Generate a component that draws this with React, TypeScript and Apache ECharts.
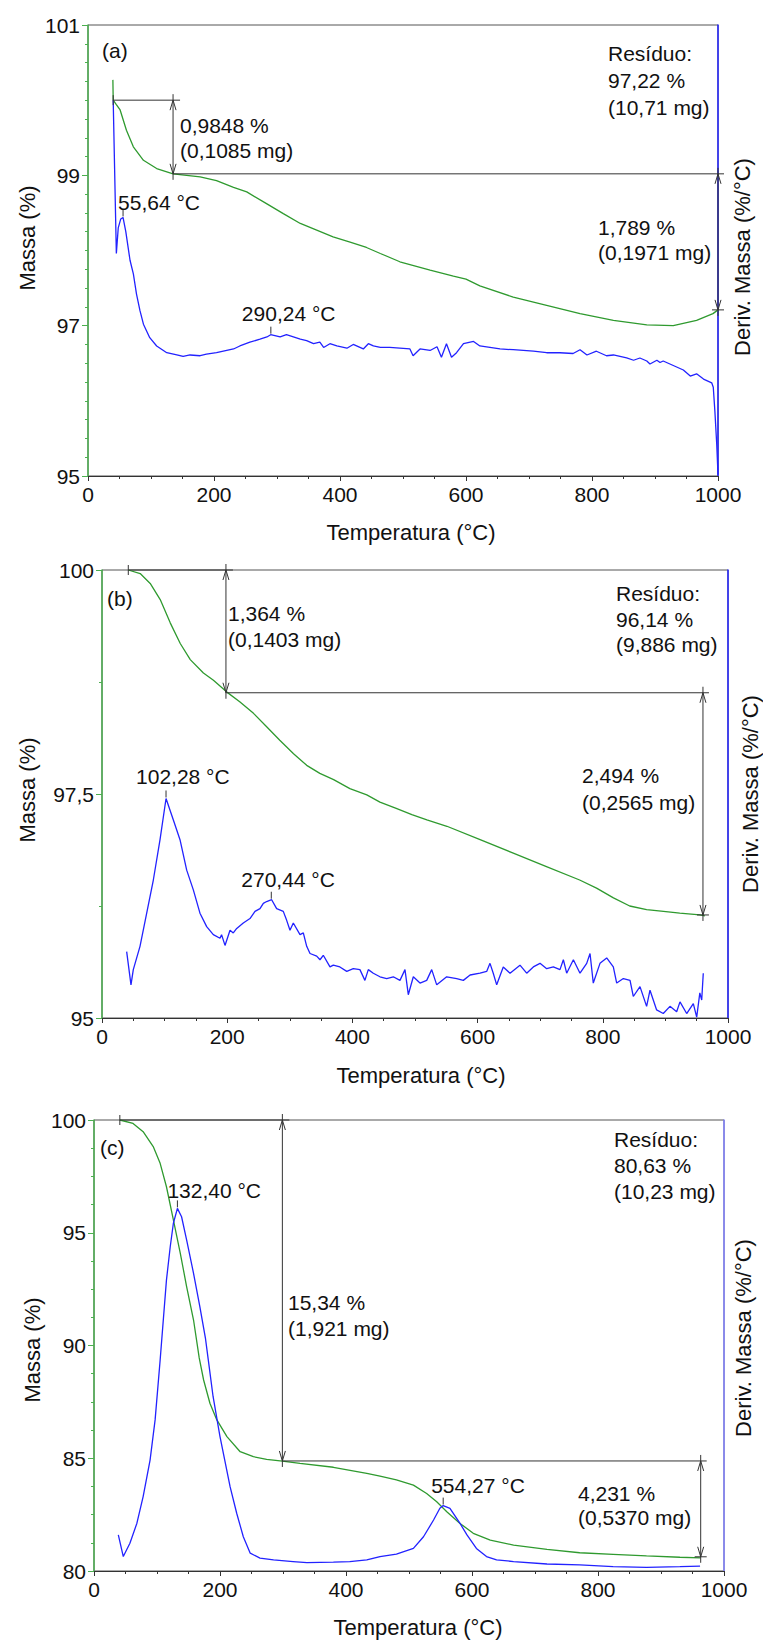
import React, { useEffect, useRef } from "react";
import * as echarts from "echarts";

// ---------- Panel (a) ----------
const tgaA = [[39.5,100.27],[40,100.0],[45,99.94],[51,99.87],[61,99.6],[72,99.38],[88,99.2],[109,99.09],[135,99.02],[178,98.98],[204,98.93],[231,98.84],[252,98.78],[284,98.62],[310,98.49],[337,98.36],[363,98.27],[389,98.18],[416,98.11],[442,98.04],[464,97.96],[495,97.85],[543,97.74],[580,97.66],[600,97.62],[622,97.53],[675,97.38],[728,97.27],[781,97.16],[834,97.07],[887,97.01],[929,97.0],[966,97.07],[992,97.16],[1000,97.21]];
const dtgA = [[40,100.0],[45,97.96],[48,98.3],[52,98.42],[55.6,98.44],[60,98.25],[66.7,97.87],[72,97.69],[77,97.42],[82.5,97.2],[88,97.02],[98,96.84],[109,96.73],[125,96.64],[141,96.61],[151,96.59],[162,96.61],[178,96.6],[188,96.62],[204,96.64],[231,96.69],[241,96.73],[257,96.78],[273,96.82],[284,96.85],[290,96.88],[305,96.85],[315,96.88],[326,96.85],[337,96.82],[347,96.8],[358,96.76],[368,96.78],[374,96.71],[384,96.76],[395,96.73],[411,96.7],[421,96.75],[437,96.69],[445,96.76],[453,96.73],[464,96.71],[479,96.71],[495,96.7],[511,96.69],[516,96.6],[527,96.69],[543,96.67],[554,96.72],[561,96.58],[569,96.76],[577,96.58],[585,96.64],[596,96.76],[612,96.79],[622,96.73],[638,96.71],[654,96.69],[675,96.68],[691,96.67],[707,96.66],[728,96.64],[749,96.64],[770,96.63],[781,96.68],[792,96.61],[807,96.66],[823,96.6],[834,96.61],[855,96.57],[866,96.54],[876,96.57],[887,96.53],[892,96.49],[903,96.54],[908,96.51],[913,96.53],[929,96.47],[945,96.41],[956,96.33],[966,96.36],[977,96.29],[990,96.24],[992.5,96.18],[995,95.87],[998,95.42],[1000,95.02]];
const peaksA = [[55.64, 98.44], [290.24, 96.88]];
const stepsA = [[40, 100.0, 135, 99.02, 1000, 97.21]];

// ---------- Panel (b) ----------
const tgaB = [[42,100],[61,99.96],[77,99.85],[93,99.67],[109,99.41],[125,99.18],[141,99.0],[162,98.85],[178,98.77],[199,98.64],[220,98.53],[242,98.4],[263,98.25],[284,98.1],[306,97.95],[327,97.82],[348,97.73],[370,97.66],[396,97.56],[423,97.49],[444,97.41],[470,97.34],[495,97.27],[519,97.21],[551,97.14],[604,96.99],[657,96.84],[710,96.69],[763,96.54],[790,96.45],[817,96.34],[843,96.25],[870,96.21],[897,96.19],[923,96.17],[955,96.15],[963,96.14]];
const dtgB = [[39.4,95.74],[46.3,95.37],[50,95.54],[60.7,95.8],[71.4,96.17],[82,96.54],[92.7,96.99],[102.3,97.45],[114,97.21],[124.6,96.99],[135.3,96.65],[145.9,96.43],[156.5,96.17],[167.2,96.02],[177.8,95.93],[188.5,95.89],[191,95.93],[196.5,95.81],[204.5,95.98],[209.7,95.95],[215.2,96.0],[225.7,96.06],[236.4,96.11],[244.4,96.19],[252.4,96.22],[257.7,96.28],[263,96.3],[271,96.32],[279,96.22],[289.6,96.19],[295,96.09],[300.3,95.98],[305.6,96.06],[316.3,95.93],[321.6,95.95],[327,95.8],[332.3,95.72],[343,95.69],[348.2,95.65],[353.5,95.7],[364.2,95.57],[369.5,95.59],[380,95.57],[391,95.52],[401.4,95.55],[412,95.54],[420,95.42],[425.4,95.54],[433.4,95.5],[444,95.46],[454.8,95.44],[465.3,95.46],[476,95.42],[484,95.54],[489.3,95.26],[497.3,95.46],[508,95.39],[518.7,95.42],[526.7,95.54],[534.7,95.37],[550.6,95.46],[566.6,95.44],[577.2,95.42],[588,95.48],[603.8,95.5],[614.5,95.52],[619.8,95.61],[625,95.5],[630.5,95.37],[641,95.57],[651.8,95.5],[667.7,95.59],[678.4,95.5],[689,95.57],[699.7,95.61],[710.4,95.55],[721,95.57],[731.6,95.54],[737,95.65],[742.3,95.5],[753,95.65],[763.6,95.5],[774.3,95.61],[779.6,95.72],[784.8,95.39],[795.5,95.61],[806.2,95.67],[816.8,95.57],[822.2,95.39],[832.8,95.44],[843.5,95.42],[848.7,95.24],[859.4,95.35],[870,95.13],[875.4,95.31],[886,95.09],[896.6,95.05],[907.3,95.13],[918,95.07],[923.3,95.18],[934,95.05],[944.6,95.16],[950,95.01],[955,95.28],[958,95.2],[960.5,95.5]];
const peaksB = [[102.28, 97.45], [270.44, 96.32]];
const stepsB = [[42, 100.0, 198, 98.63, 960, 96.15]];

// ---------- Panel (c) ----------
const tgaC = [[41,100],[62,99.85],[78,99.48],[94,98.82],[105,98.08],[115,97.04],[126,95.57],[137,94.09],[147,92.61],[158,91.13],[167,89.45],[174,88.47],[184,87.44],[195,86.7],[211,85.96],[232,85.29],[253,85.07],[274,84.95],[299,84.87],[327,84.77],[380,84.6],[433,84.33],[454,84.21],[480,84.04],[507,83.81],[528,83.44],[544,83.07],[560,82.63],[581,82.11],[602,81.67],[629,81.37],[666,81.15],[719,80.96],[771,80.81],[824,80.74],[877,80.67],[930,80.61],[963,80.58]];
const dtgC = [[38.6,81.6],[46.5,80.64],[57,81.23],[68,82.11],[78,83.3],[89,84.92],[97,86.7],[105,89.36],[110,91.13],[115,92.9],[121,94.38],[126,95.42],[132.4,96.08],[139,95.71],[147,94.68],[158,93.2],[168,91.72],[177,90.3],[181.4,89.36],[189,87.74],[200,85.96],[216,83.74],[226.5,82.56],[237,81.52],[248,80.79],[263.5,80.57],[285,80.49],[316,80.42],[338,80.37],[380,80.39],[406,80.42],[433,80.49],[454,80.64],[480,80.75],[507,81.0],[523,81.52],[539,82.26],[549,82.78],[554.3,82.9],[565,82.78],[581,82.11],[592,81.6],[607,81.0],[623,80.64],[639,80.49],[666,80.42],[719,80.31],[771,80.27],[824,80.19],[877,80.16],[930,80.19],[962,80.22]];
const peaksC = [[132.40, 96.08], [554.27, 82.90]];
const stepsC = [[41, 100.0, 299, 84.88, 963, 80.63]];

// axis settings
const xTicks = { min: 0, max: 1000, interval: 200 };
const yRangeA = { min: 95, max: 101, interval: 2, minor: 8 };
const yRangeB = { min: 95, max: 100, interval: 2.5, minor: 2 };
const yRangeC = { min: 80, max: 100, interval: 5, minor: 4 };

// annotation texts
const textsA = [["(a)", 102, 50], ["0,9848 %", 180, 125], ["(0,1085 mg)", 180, 150], ["Resíduo:", 608, 53], ["97,22 %", 608, 80], ["(10,71 mg)", 608, 107], ["1,789 %", 598, 227], ["(0,1971 mg)", 598, 252]];
const textsB = [["(b)", 107, 598], ["1,364 %", 228, 613], ["(0,1403 mg)", 228, 639], ["Resíduo:", 616, 593], ["96,14 %", 616, 619], ["(9,886 mg)", 616, 644], ["2,494 %", 582, 775], ["(0,2565 mg)", 582, 802]];
const textsC = [["(c)", 100, 1147], ["15,34 %", 288, 1302], ["(1,921 mg)", 288, 1328], ["Resíduo:", 614, 1139], ["80,63 %", 614, 1165], ["(10,23 mg)", 614, 1191], ["4,231 %", 578, 1493], ["(0,5370 mg)", 578, 1517]];

const FONT = '"Liberation Sans", Arial, Helvetica, sans-serif';
const GREEN = "#2f9a2f";
const BLUE = "#2222ff";
const DARK = "#333333";

const peakOffsets = [
  [[-5, -15], [-29, -21]],
  [[-30, -22], [-30, -20]],
  [[-10, -18], [-12, -20]],
];

function makeStepsRender() {
  return (params: any, api: any) => {
    const t0 = api.value(0), v0 = api.value(1), t1 = api.value(2), v1 = api.value(3), t2 = api.value(4), v2 = api.value(5);
    const p0 = api.coord([t0, v0]);
    const a1t = api.coord([t1, v0]);
    const a1b = api.coord([t1, v1]);
    const a2t = api.coord([t2, v1]);
    const a2b = api.coord([t2, v2]);
    const st = { stroke: DARK, lineWidth: 1, fill: "none" };
    const line = (x1: number, y1: number, x2: number, y2: number) => ({ type: "line", shape: { x1, y1, x2, y2 }, style: st });
    const chev = (x: number, y: number, dir: number) => ({
      type: "polyline",
      shape: { points: [[x - 3, y + dir * 10], [x, y], [x + 3, y + dir * 10]] },
      style: st,
    });
    return {
      type: "group",
      children: [
        line(p0[0], p0[1] - 5, p0[0], p0[1] + 5),
        line(p0[0], p0[1], a1t[0] + 7, p0[1]),
        line(a1t[0], a1t[1] - 6, a1b[0], a1b[1] + 6),
        chev(a1t[0], a1t[1], 1),
        chev(a1b[0], a1b[1], -1),
        line(a1b[0], a1b[1], a2t[0] + 6, a1b[1]),
        line(a2t[0], a2t[1] - 6, a2b[0], a2b[1] + 6),
        chev(a2t[0], a2t[1], 1),
        chev(a2b[0], a2b[1], -1),
        line(a2b[0] - 6, a2b[1], a2b[0] + 6, a2b[1]),
      ],
    };
  };
}

function makePeakRender(panel: number) {
  return (params: any, api: any) => {
    const t = api.value(0);
    const p = api.coord([t, api.value(1)]);
    const off = peakOffsets[panel][params.dataIndex];
    return {
      type: "group",
      children: [
        { type: "line", shape: { x1: p[0], y1: p[1] - 1, x2: p[0], y2: p[1] - 8 }, style: { stroke: DARK, lineWidth: 1 } },
        {
          type: "text",
          x: p[0] + off[0],
          y: p[1] + off[1],
          style: {
            text: t.toFixed(2).replace(".", ",") + " °C",
            fill: "#111",
            font: "21px " + FONT,
            align: "left",
            verticalAlign: "middle",
            textAlign: "left",
            textVerticalAlign: "middle",
          },
        },
      ],
    };
  };
}

const fmt = (v: number) => String(v).replace(".", ",");

function buildOption() {
  const grids = [
    { left: 88, top: 25, width: 630, height: 451 },
    { left: 102, top: 570, width: 626, height: 448 },
    { left: 94, top: 1120, width: 630, height: 451 },
  ].map((g) => ({ ...g, show: true, borderColor: "#555", borderWidth: 1, backgroundColor: "transparent" }));

  const xAxis = [0, 1, 2].map((i) => ({
    type: "value",
    gridIndex: i,
    min: xTicks.min,
    max: xTicks.max,
    interval: xTicks.interval,
    axisLine: { show: true, lineStyle: { color: DARK, width: 1 } },
    axisTick: { show: true, length: 5, lineStyle: { color: DARK } },
    minorTick: { show: true, splitNumber: 4, length: 3, lineStyle: { color: DARK } },
    splitLine: { show: false },
    minorSplitLine: { show: false },
    axisLabel: { color: "#111", fontSize: 21, fontFamily: FONT, margin: 8, formatter: (v: number) => String(v) },
  }));

  const ranges = [yRangeA, yRangeB, yRangeC];
  const rightColors = [BLUE, BLUE, "#8080ff"];
  const yAxis: any[] = [];
  ranges.forEach((r, i) => {
    yAxis.push({
      type: "value",
      gridIndex: i,
      position: "left",
      min: r.min,
      max: r.max,
      interval: r.interval,
      axisLine: { show: true, lineStyle: { color: "#4caf50", width: 1.5 } },
      axisTick: { show: true, length: 6, lineStyle: { color: "#4caf50" } },
      minorTick: { show: true, splitNumber: r.minor, length: 3, lineStyle: { color: "#4caf50" } },
      splitLine: { show: false },
      minorSplitLine: { show: false },
      axisLabel: { color: "#111", fontSize: 21, fontFamily: FONT, margin: 8, formatter: fmt },
    });
    yAxis.push({
      type: "value",
      gridIndex: i,
      position: "right",
      min: r.min,
      max: r.max,
      interval: r.interval,
      axisLine: { show: true, lineStyle: { color: rightColors[i], width: 1.5 } },
      axisTick: { show: false },
      axisLabel: { show: false },
      splitLine: { show: false },
    });
  });

  const tgas = [tgaA, tgaB, tgaC];
  const dtgs = [dtgA, dtgB, dtgC];
  const steps = [stepsA, stepsB, stepsC];
  const peaks = [peaksA, peaksB, peaksC];
  const series: any[] = [];
  [0, 1, 2].forEach((i) => {
    series.push({
      type: "line", xAxisIndex: i, yAxisIndex: 2 * i, data: tgas[i], showSymbol: false, symbol: "none",
      lineStyle: { color: GREEN, width: 1.3 }, z: 3,
    });
    series.push({
      type: "line", xAxisIndex: i, yAxisIndex: 2 * i + 1, data: dtgs[i], showSymbol: false, symbol: "none",
      lineStyle: { color: BLUE, width: 1.3 }, z: 3,
    });
    series.push({
      type: "custom", xAxisIndex: i, yAxisIndex: 2 * i, data: steps[i], renderItem: makeStepsRender(),
      encode: { x: 0, y: 1 }, z: 4, clip: false,
    });
    series.push({
      type: "custom", xAxisIndex: i, yAxisIndex: 2 * i + 1, data: peaks[i], renderItem: makePeakRender(i),
      encode: { x: 0, y: 1 }, z: 4, clip: false,
    });
  });

  const txt = (t: string, x: number, y: number, size = 21, rot = 0, align = "left") => ({
    type: "text",
    x,
    y,
    rotation: rot,
    style: {
      text: t,
      fill: "#111",
      font: size + "px " + FONT,
      align,
      verticalAlign: "middle",
      textAlign: align,
      textVerticalAlign: "middle",
    },
  });

  const graphic: any[] = [];
  [textsA, textsB, textsC].forEach((arr) => arr.forEach((e: any) => graphic.push(txt(e[0], e[1], e[2]))));
  const xTitles = [[411, 532], [421, 1075], [418, 1627]];
  const lTitles = [[27, 238], [27, 790], [32, 1350]];
  const rTitles = [[742, 257], [750, 794], [743, 1338]];
  xTitles.forEach((p) => graphic.push(txt("Temperatura (°C)", p[0], p[1], 22, 0, "center")));
  lTitles.forEach((p) => graphic.push(txt("Massa (%)", p[0], p[1], 22, Math.PI / 2, "center")));
  rTitles.forEach((p) => graphic.push(txt("Deriv. Massa (%/°C)", p[0], p[1], 22, Math.PI / 2, "center")));

  return {
    animation: false,
    backgroundColor: "#ffffff",
    grid: grids,
    xAxis,
    yAxis,
    series,
    graphic: { elements: graphic },
  };
}

export default function App() {
  const ref = useRef<HTMLDivElement>(null);
  useEffect(() => {
    document.body.style.margin = "0";
    const chart = echarts.init(ref.current!, null, { renderer: "svg" });
    chart.setOption(buildOption() as any);
    return () => chart.dispose();
  }, []);
  return <div ref={ref} style={{ width: 763, height: 1641 }} />;
}
